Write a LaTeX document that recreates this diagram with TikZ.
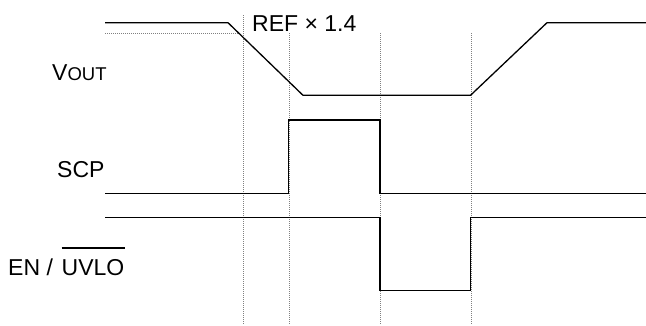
\documentclass[tikz,border=0pt]{standalone}
\usepackage{fontspec}
\setmainfont{Liberation Sans}
\usetikzlibrary{positioning}

\begin{document}
\begin{tikzpicture}[x=1pt,y=1pt,yscale=-1,xscale=1,
  sig/.style={line width=1.3pt,line join=miter},
  guide/.style={line width=0.8pt,color=gray,dash pattern=on 1pt off 1pt},
  lbl/.style={inner sep=0pt,anchor=base west,font=\fontsize{23}{27}\selectfont}]
\useasboundingbox (0,0) rectangle (646,325);

%Straight Lines: time markers
\foreach \gx/\gy in {243/15,289/33,380/33,471/33}
  \draw[guide] (\gx,\gy) -- (\gx,325);
%Straight Lines: threshold level
\draw[guide] (105,33.5) -- (240,33.5);

%Straight Lines: VOUT
\draw[sig] (105,22.7) -- (228,22.7) -- (303,95.3) -- (470.5,95.3) -- (547,22.7) -- (646,22.7);
%Straight Lines: SCP
\draw[sig] (105,193.3) -- (288.5,193.3) -- (288.5,120) -- (380,120) -- (380,193.3) -- (646,193.3);
%Straight Lines: EN / UVLO
\draw[sig] (105,217.7) -- (380,217.7) -- (380,290.7) -- (470.7,290.7) -- (470.7,217.7) -- (646,217.7);

% Text Node
\node[lbl] (ref) at (252,31.7) {REF × 1.4};
% Text Node
\node[lbl] (vout) at (52,80) {V{\fontsize{18.5}{22}\selectfont OUT}};
% Text Node
\node[lbl] (scp) at (57,177) {SCP};
% Text Node
\node[lbl] (en) at (8,275) {EN /};
\node[lbl] (uvlo) at (61.5,275) {UVLO};
\coordinate (over) at (0,248);
\draw[sig] (uvlo.west |- over) -- (uvlo.east |- over);

\end{tikzpicture}
\end{document}
